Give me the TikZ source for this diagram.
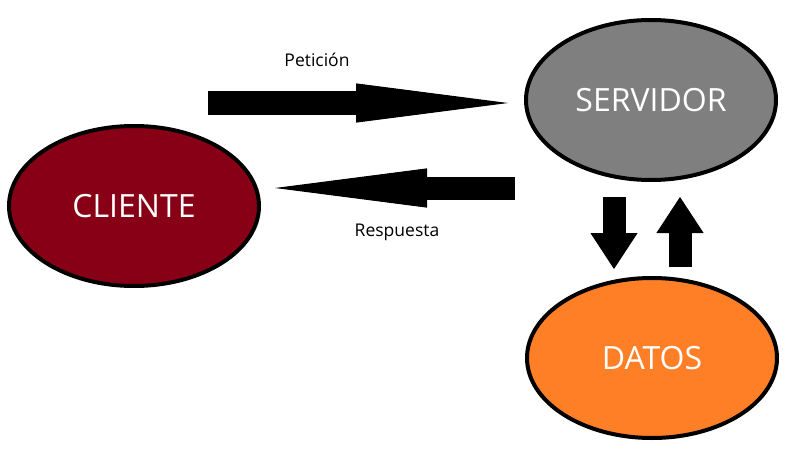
\documentclass[tikz,border=0pt]{standalone}
\usepackage{fontspec}
\setmainfont{Open Sans}
\usepackage{tikz}
\usetikzlibrary{
  arrows.meta,
  positioning,
  shapes.geometric
}
\definecolor{clientred}{HTML}{880015}
\definecolor{servergray}{HTML}{7F7F7F}
\definecolor{dataorange}{HTML}{FF7F27}

\begin{document}
\begin{tikzpicture}[x=1pt, y=-1pt,
  blob/.style={draw, ellipse, line width=4pt, minimum width=250pt, minimum height=160pt,
    text=white, font=\fontsize{32}{36}\selectfont},
  fat/.style={line width=23pt, -{Triangle[length=152pt 0 0, width=39pt 0 0, line width=1pt]}},
  slim/.style={line width=23pt, -{Triangle[length=36pt 0 0, width=47pt 0 0, line width=1pt]}},
  tag/.style={font=\fontsize{17.5}{20}\selectfont}
]
\useasboundingbox (0,0) rectangle (793,460);

\node[blob, fill=clientred] (cliente) at (134,206) {CLIENTE};
\node[blob, fill=servergray] (servidor) at (651,100) {SERVIDOR};
\node[blob, fill=dataorange] (datos) at (652,358) {DATOS};

% peticion / respuesta
\coordinate (pa) at (208,103);
\coordinate (pb) at (508,103);
\coordinate (ra) at (515,188);
\coordinate (rb) at (275,188);
\draw[fat] (pa) -- (pb);
\draw[fat] (ra) -- (rb);
\node[tag] (peticion) at (317,60) {Petición};
\node[tag] (respuesta) at (397,232) {Respuesta};

% servidor <-> datos
\coordinate (da) at (614,197);
\coordinate (db) at (614,269);
\coordinate (ua) at (680,267);
\coordinate (ub) at (680,197);
\draw[slim] (da) -- (db);
\draw[slim] (ua) -- (ub);
\end{tikzpicture}
\end{document}
